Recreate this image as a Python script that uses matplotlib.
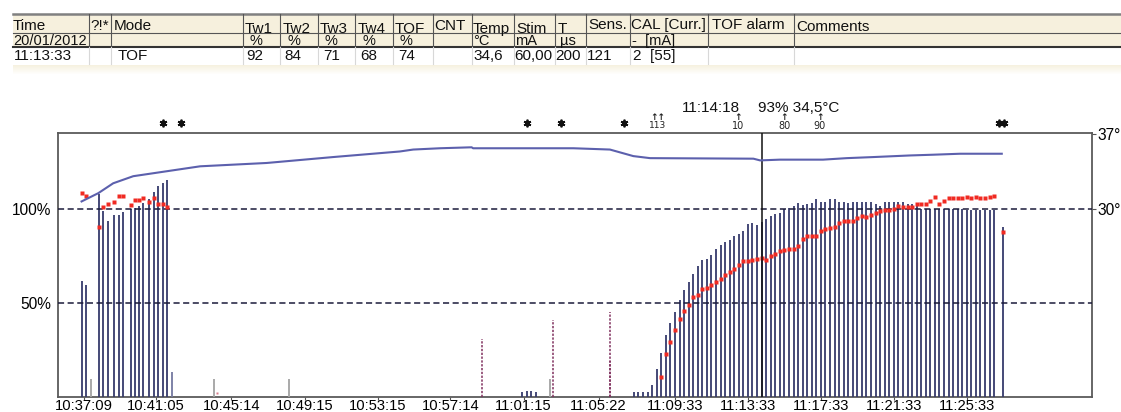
import matplotlib
matplotlib.use("Agg")
import matplotlib.pyplot as plt
import numpy as np
from matplotlib.patches import Rectangle
from matplotlib.transforms import blended_transform_factory, offset_copy

plt.rcParams['font.family'] = ['Liberation Sans', 'DejaVu Sans']

# ---------------- data ----------------
header_top = ["Time", "?!*", "Mode", "Tw1", "Tw2", "Tw3", "Tw4", "TOF", "CNT", "Temp",
              "Stim", "T", "Sens.", "CAL [Curr.]", "TOF alarm", "Comments"]
header_units = ["20/01/2012", "", "", "%", "%", "%", "%", "%", "", "°C", "mA", "µs",
                "", "-  [mA]", "", ""]
row_values = ["11:13:33", "", "TOF", "92", "84", "71", "68", "74", "", "34,6", "60,00",
              "200", "121", "2  [55]", "", ""]

tick_times = ["10:37:09", "10:41:05", "10:45:14", "10:49:15", "10:53:15", "10:57:14",
              "11:01:15", "11:05:22", "11:09:33", "11:13:33", "11:17:33", "11:21:33",
              "11:25:33"]

# first TOF train: Tw1 (%) bars and TOF ratio (%) dots
early_times = ["10:37:02", "10:37:17", "10:37:59", "10:38:12", "10:38:27", "10:38:49",
               "10:39:03", "10:39:17", "10:39:43", "10:39:56", "10:40:10", "10:40:24",
               "10:40:44", "10:40:58", "10:41:12", "10:41:28", "10:41:43"]
early_tw1 = [61.5, 59.8, 108.0, 98.8, 93.8, 97.0, 97.0, 98.5, 99.8, 100.6, 101.6, 103.4,
             105.5, 108.8, 112.4, 113.6, 115.4]
early_tof = [108.6, 106.7, 90.3, 101.0, 102.7, 103.6, 107.0, 107.0, 102.2, 105.0, 105.0,
             105.9, 103.6, 105.9, 102.7, 102.7, 101.3]

# single responses
gray_times = ["10:37:31", "10:44:17", "10:48:22", "11:02:42"]
gray_vals = [9.4, 9.4, 9.4, 9.4]
slate_times = ["10:41:58"]
slate_vals = [13.4]
small_times = ["11:01:11", "11:01:26", "11:01:41", "11:01:56"]
small_vals = [2.5, 3.2, 3.2, 2.5]
stray_tof_times = ["10:44:27"]
stray_tof_vals = [2.3]
dotted_times = ["10:58:57", "11:02:52", "11:06:00", "11:06:00"]
dotted_vals = [30.6, 40.8, 45.2, 19.0]

# recovery phase, one TOF every 15 s from 11:07:18
late_start = "11:07:18"
late_step_s = 15
late_tw1 = [2.8, 2.8, 2.8, 2.8, 6.4, 14.7, 23.5, 32.9, 39.4, 45.2,
            51.4, 57.1, 61.1, 65.2, 69.8, 72.6, 73.3, 75.3, 78.6, 80.6,
            82.3, 83.6, 85.4, 86.8, 88.5, 92.0, 92.4, 91.7, 93.0, 94.9,
            96.3, 97.2, 98.1, 100.2, 100.7, 101.5, 103.4, 102.0, 102.4, 103.4,
            105.1, 103.9, 103.9, 105.5, 105.1, 103.9, 103.9, 103.4, 103.9, 103.9,
            103.9, 103.9, 103.9, 102.4, 101.8, 103.9, 103.9, 103.9, 103.9, 103.9,
            102.9, 102.9, 102.4, 100.2, 100.2, 100.2, 100.2, 100.2, 100.2, 100.2,
            100.2, 100.2, 100.2, 99.5, 99.5, 99.5, 99.5, 99.5, 99.5, 99.5]
late_tof = [np.nan, np.nan, np.nan, np.nan, np.nan, np.nan,
            10.8, 22.8, 29.3, 35.5, 41.7, 45.8, 48.8, 53.2, 54.4, 57.6,
            58.2, 59.4, 61.1, 62.7, 64.7, 66.3, 68.2, 70.0, 72.3, 72.1,
            72.6, 73.5, 74.1, 73.0, 74.8, 76.2, 77.6, 78.3, 78.6, 78.6,
            80.4, 84.0, 85.6,
            85.4, 85.4, 88.1, 89.5, 90.0, 90.6, 92.4, 93.4, 93.4, 93.4,
            95.0, 96.3, 95.6, 96.6, 98.1, 98.8, 99.5, 99.5, 100.0, 101.8,
            101.2, 101.2, 101.2, 102.9, 102.9, 102.9, 104.3, 106.1, 102.5, 104.3,
            105.6, 105.6, 105.6, 105.6, 106.1, 105.6, 106.1, 105.6, 105.6, 106.1,
            106.8]
last_time = "11:27:33"
last_tw1 = 90.6
last_tof = 87.6

# temperature (°C)
temp_times = ["10:37:01", "10:37:56", "10:38:45", "10:39:51", "10:41:41", "10:43:31",
              "10:47:10", "10:50:48", "10:54:28", "10:55:12", "10:56:40", "10:58:24",
              "10:58:29", "11:03:59", "11:05:59", "11:07:16", "11:08:11", "11:13:51",
              "11:14:13", "11:15:18", "11:16:30", "11:17:40", "11:18:58", "11:20:25",
              "11:22:26", "11:23:43", "11:25:11", "11:27:28"]
temp_vals = [30.70, 31.47, 32.39, 33.05, 33.51, 33.97, 34.28, 34.83, 35.35, 35.53,
             35.65, 35.74, 35.65, 35.65, 35.53, 34.92, 34.73, 34.68, 34.52, 34.59,
             34.59, 34.59, 34.73, 34.83, 34.98, 35.05, 35.14, 35.14]

# events above the graph
star_times = ["10:41:28", "10:42:27", "11:01:25", "11:03:17", "11:06:46",
              "11:27:18", "11:27:35"]
arrow_times = ["11:13:01", "11:15:33", "11:17:30"]
arrow_labels = ["10", "80", "90"]
multi_arrow_time = "11:08:36"
multi_arrow_label = "113"

cursor_time = "11:14:18"
cursor_text_left = "11:14:18"
cursor_text_right = "93% 34,5°C"

pct_ticks = [50, 100]
pct_labels = ["50%", "100%"]
temp_ticks = [30, 37]
temp_labels = ["30°C", "37°C"]


def tsec(s):
    h, m, x = map(int, s.split(":"))
    return h * 3600 + m * 60 + x


def tsecs(lst):
    return np.array([tsec(s) for s in lst], dtype=float)


# ---------------- figure ----------------
W, H = 1121, 412
fig = plt.figure(figsize=(W / 100, H / 100), dpi=100)

# ---- table (pixel coordinates) ----
tab = fig.add_axes([0, 0, 1, 1])
tab.set_xlim(0, W)
tab.set_ylim(H, 0)
tab.axis("off")

beige = "#f6f0dd"
col_edges = [12.5, 88.6, 110.7, 242.9, 280.4, 317.9, 355.4, 392.9, 432.9, 472.1,
             514.3, 555.4, 585.7, 629.6, 708.2, 793.9, W]
y_top, y_hdr, y_unit, y_row = 13.5, 32.5, 47.0, 64.0
tab.add_patch(Rectangle((col_edges[0], y_top), W - col_edges[0], y_unit - y_top,
                        color=beige, lw=0, zorder=0))
for k in range(9):
    tab.add_patch(Rectangle((col_edges[0], 65 + k), W - col_edges[0], 1,
                            color=beige, alpha=0.9 - 0.1 * k, lw=0, zorder=0))
tab.plot([col_edges[0], W], [y_top, y_top], color="#808080", lw=1.8)
tab.plot([col_edges[0], W], [y_hdr, y_hdr], color="#555555", lw=0.8)
tab.plot([col_edges[0], W], [y_unit, y_unit], color="#333333", lw=1.5)
for e in col_edges[1:-1]:
    tab.plot([e, e], [y_top, y_unit], color="#555555", lw=0.8)
    tab.plot([e, e], [y_unit, y_row], color="#d8d8d8", lw=0.8)

hdr_dx = [0.5, 2, 3, 2, 2, 2, 2, 2, 1.5, 1, 2, 2, 2.5, 1.5, 3.5, 2.5]
hdr_y = [26.0, 26.0, 26.0, 28.5, 28.5, 28.5, 28.5, 28.5, 25.5, 28.5, 28.5, 28.5,
         25.0, 25.0, 25.0, 26.5]
unit_dx = [1, 0, 0, 7, 7, 7, 7, 7, 0, 1, 1, 5, 0, 2, 0, 0]
val_dx = [1, 0, 7, 3.5, 4, 5, 5, 5, 0, 1, 0, 0, 1, 3.5, 0, 0]
FS = 11
for i in range(len(header_top)):
    x0 = col_edges[i]
    tab.text(x0 + hdr_dx[i], hdr_y[i], header_top[i], fontsize=FS, va="center",
             ha="left", color="#111111")
    if header_units[i]:
        tab.text(x0 + unit_dx[i], 40.5, header_units[i], fontsize=FS - 0.5,
                 va="center", ha="left", color="#111111")
    if row_values[i]:
        tab.text(x0 + val_dx[i], 55.5, row_values[i], fontsize=FS, va="center",
                 ha="left", color="#111111")

# ---- graph ----
ax_l, ax_r, ax_t, ax_b = 58, 1092, 133, 397
ax = fig.add_axes([ax_l / W, 1 - ax_b / H, (ax_r - ax_l) / W, (ax_b - ax_t) / H])
t0 = tsec(tick_times[0])
px_per_s = 0.304
x_first_tick = 84
ax.set_xlim(t0 - (x_first_tick - ax_l) / px_per_s, t0 + (ax_r - x_first_tick) / px_per_s)
PCT_TOP = 140.4
ax.set_ylim(0, PCT_TOP)

navy = "#363a6c"
red = "#f02a22"

late_t = tsec(late_start) + late_step_s * np.arange(len(late_tw1))
bar_t = np.concatenate([tsecs(early_times), late_t, [tsec(last_time)], tsecs(small_times)])
bar_v = np.concatenate([early_tw1, late_tw1, [last_tw1], small_vals])
ax.vlines(bar_t, 0, bar_v, color=navy, lw=1.3, zorder=3)
ax.vlines(tsecs(gray_times), 0, gray_vals, color="#a3a3a3", lw=1.3, zorder=3)
ax.vlines(tsecs(slate_times), 0, slate_vals, color="#7478a0", lw=1.3, zorder=3)
ax.vlines(tsecs(dotted_times), 0, dotted_vals, color="#80305e", lw=1.1,
          linestyles=(0, (1.5, 1.0)), zorder=3)

for y in pct_ticks:
    ax.axhline(y, color="#1b1b3a", lw=1.1, ls=(0, (4.0, 2.3)), zorder=4)

tof_t = np.concatenate([tsecs(early_times), late_t, [tsec(last_time)]])
tof_v = np.concatenate([early_tof, late_tof, [last_tof]])
ax.plot(tof_t, tof_v, ls="none", marker="s", ms=2.6, color=red, mec="none", zorder=5)
ax.plot(tsecs(stray_tof_times), stray_tof_vals, ls="none", marker="s", ms=1.6,
        color="#d77a8a", mec="none", zorder=5)

ax.axvline(tsec(cursor_time), color="#111111", lw=1.1, zorder=6)

ax.set_xticks(tsecs(tick_times))
ax.set_xticklabels(tick_times, fontsize=10.6)
ax.set_yticks(pct_ticks)
ax.set_yticklabels(pct_labels, fontsize=11.2)
ax.tick_params(axis="x", length=2.5, width=0.8, color="#555555", pad=-1.2)
ax.tick_params(axis="y", length=0, pad=5)
for sp in ax.spines.values():
    sp.set_color("#5a5a5a")
    sp.set_linewidth(1.3)

ax2 = ax.twinx()
ax2.set_ylim(30 - 100 * 0.175, 30 + (PCT_TOP - 100) * 0.175)
ax2.plot(tsecs(temp_times), temp_vals, color="#5c60ad", lw=1.5, zorder=2)
ax2.set_yticks(temp_ticks)
ax2.set_yticklabels(temp_labels, fontsize=11.2)
ax2.tick_params(axis="y", length=3, width=0.8, pad=1, color="#555555")
for sp in ax2.spines.values():
    sp.set_visible(False)

# events above graph
trans = blended_transform_factory(ax.transData, ax.transAxes)
ax.plot(tsecs(star_times), [1.039] * len(star_times), ls="none", marker=(6, 2, 0),
        ms=5.5, mew=1.3, color="#111111", transform=trans, clip_on=False)
for t, lab in zip(arrow_times, arrow_labels):
    ax.text(tsec(t), 1.060, "↑", transform=trans, ha="center", va="center",
            fontsize=6.5, color="#222222", family="DejaVu Sans", fontweight="bold")
    ax.text(tsec(t), 1.026, lab, transform=trans, ha="center", va="center",
            fontsize=7, color="#222222", family="DejaVu Sans")
ax.text(tsec(multi_arrow_time), 1.060, "↑↑", transform=trans, ha="center", va="center",
        fontsize=6.5, color="#222222", family="DejaVu Sans", fontweight="bold")
ax.text(tsec(multi_arrow_time), 1.028, multi_arrow_label, transform=trans, ha="center",
        va="center", fontsize=6.5, color="#222222", family="DejaVu Sans")

ct = tsec(cursor_time)
tl = offset_copy(trans, fig=fig, x=-21.7 * 72 / 100, y=0, units="points")
tr = offset_copy(trans, fig=fig, x=-3.7 * 72 / 100, y=0, units="points")
ax.text(ct, 1.096, cursor_text_left, transform=tl, ha="right", va="center",
        fontsize=11, color="#111111")
ax.text(ct, 1.096, cursor_text_right, transform=tr, ha="left", va="center",
        fontsize=11, color="#111111")

fig.savefig("out.png", dpi=100)
